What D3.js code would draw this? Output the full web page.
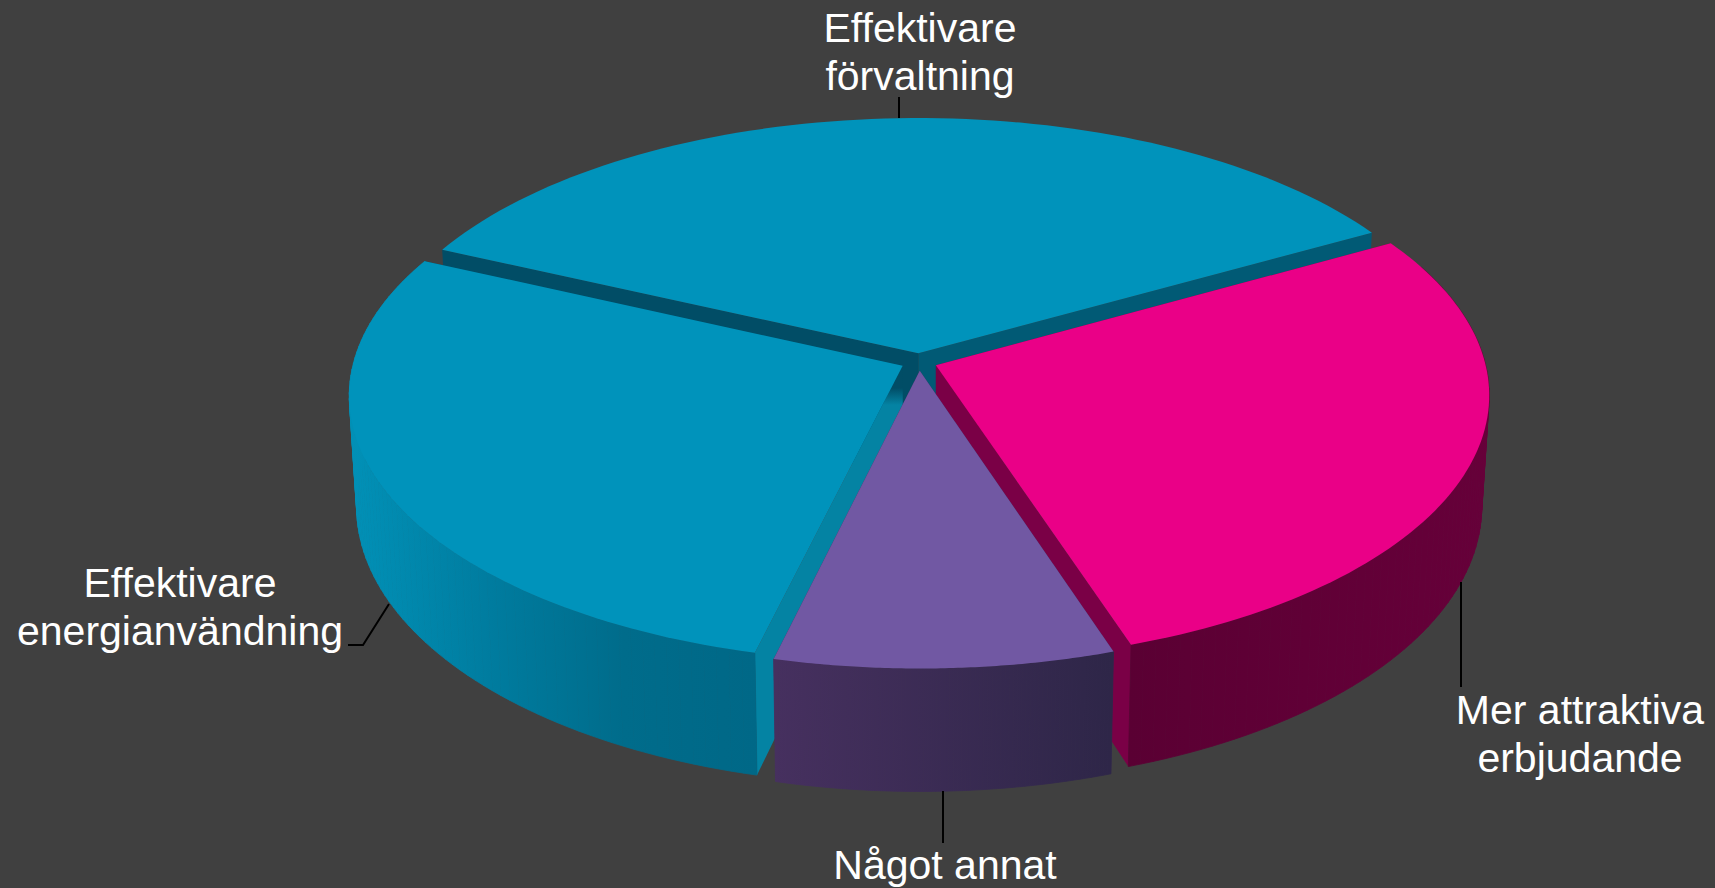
<!DOCTYPE html>
<html>
<head>
<meta charset="utf-8">
<script src="https://d3js.org/d3.v7.min.js"></script>
<style>
    html, body { margin: 0; padding: 0; background: #404040; overflow: hidden; }
    text { font-family: "Liberation Sans", Arial, sans-serif; font-size: 41px; fill: #fff; text-anchor: middle; }
</style>
</head>
<body>
<div id="chart"></div>
<script>
// values, clockwise from the left corner of the top slice
const categories = ["Effektivare förvaltning", "Mer attraktiva erbjudande", "Något annat", "Effektivare energianvändning"];
const shares = [35.1, 28.0, 8.9, 28.0];

const labelLines = [
    ["Effektivare", "förvaltning"],
    ["Mer attraktiva", "erbjudande"],
    ["Något annat"],
    ["Effektivare", "energianvändning"]
];

// colours per slice
const topColors = ["#0093bb", "#ea0087", "#7158a3", "#0093bb"];
const wallStops = [
    ["#00607e", "#00607e"],
    ["#5a0033", "#600036", "#660039"],
    ["#46305f", "#2e2648"],
    ["#0190b6", "#007c9f", "#006c8b", "#006887"]
];
// [start side, end side] of each slice
const cutColors = [
    ["#014d66", "#015a75"],
    ["#7a0046", "#7a0046"],
    ["#3f2c5e", "#3f2c5e"],
    ["url(#cutLeft)", "#014d66"]
];

// label placement and leader lines, page pixels
const labelPos = [
    {x: 920, y: 42}, {x: 1580, y: 724}, {x: 945, y: 879}, {x: 180, y: 597}
];
const leaders = [
    [[899, 97], [899, 118]],
    [[1461, 582], [1461, 687]],
    [[943, 791], [943, 843]],
    [[348, 645], [363, 645], [389, 604]]
];

const width = 1715, height = 888;
const cx = 919, cy = 362;      // pie centre on the page
const rx = 549, ry = 263;      // plane radii
const persp = 0.11;            // perspective strength
const explode = 0.033;
const depth = 109;
const taper = 0.987;           // walls lean in a little going down

const svg = d3.select("#chart").append("svg")
    .attr("width", width)
    .attr("height", height);

svg.append("rect")
    .attr("width", width)
    .attr("height", height)
    .attr("fill", "#404040");

const defs = svg.append("defs");

// the cut of the left slice is dark up by the centre, teal further out
defs.append("linearGradient")
    .attr("id", "cutLeft")
    .attr("gradientUnits", "userSpaceOnUse")
    .attr("x1", 0).attr("x2", 0)
    .attr("y1", 388).attr("y2", 405)
    .selectAll("stop")
    .data(["#014d66", "#0483a3"])
    .join("stop")
    .attr("offset", (c, j) => j)
    .attr("stop-color", c => c);

// plane point (u right, v towards viewer) to the page, low = on the bottom face
function project(u, v, low) {
    let w = 1 - persp * v;
    let x = cx + rx * u / w;
    let y = cy + ry * v / w;
    if (low) {
        x = cx + (x - cx) * taper;
        y = y + depth / w;
    }
    return [x, y];
}

const pie = d3.pie()
    .sort(null)
    .startAngle(-65.5 * Math.PI / 180)
    .endAngle((360 - 65.5) * Math.PI / 180);

const arcs = pie(shares);

const line = d3.line();

function rimPoint(d, angle, low) {
    let mid = (d.startAngle + d.endAngle) / 2;
    let u = Math.sin(angle) + explode * Math.sin(mid);
    let v = -Math.cos(angle) - explode * Math.cos(mid);
    return project(u, v, low);
}

function apexPoint(d, low) {
    let mid = (d.startAngle + d.endAngle) / 2;
    return project(explode * Math.sin(mid), -explode * Math.cos(mid), low);
}

function rimAngle(d, i) {
    return d.startAngle + (d.endAngle - d.startAngle) * i / 80;
}

function rim(d, low) {
    return d3.range(0, 81).map(i => rimPoint(d, rimAngle(d, i), low));
}

function cutFace(d, angle) {
    return [apexPoint(d, false), rimPoint(d, angle, false), rimPoint(d, angle, true), apexPoint(d, true)];
}

// painter's order: back slice first, then the sides, the front slice last
const order = [0, 3, 1, 2];

order.forEach(i => {
    let d = arcs[i];
    let g = svg.append("g").attr("class", "slice");

    defs.append("linearGradient")
        .attr("id", "wall" + i)
        .attr("gradientUnits", "userSpaceOnUse")
        .attr("x1", d3.min(rim(d, true), p => p[0]))
        .attr("x2", d3.max(rim(d, true), p => p[0]))
        .attr("y1", 0)
        .attr("y2", 0)
        .selectAll("stop")
        .data(wallStops[i])
        .join("stop")
        .attr("offset", (c, j, all) => j / (all.length - 1))
        .attr("stop-color", c => c);

    // end side first, on the side slices that one faces away
    g.append("path")
        .attr("d", line(cutFace(d, d.endAngle)) + "Z")
        .attr("fill", cutColors[i][1]);

    g.append("path")
        .attr("d", line(cutFace(d, d.startAngle)) + "Z")
        .attr("fill", cutColors[i][0]);

    // wall as small quads so the silhouette between the rims gets filled,
    // the ones facing away are left out
    let upper = rim(d, false);
    let lower = rim(d, true);
    g.append("g")
        .selectAll("path")
        .data(d3.range(0, upper.length - 1).filter(k => Math.cos(rimAngle(d, k)) < 0.4))
        .join("path")
        .attr("d", k => line([upper[k], upper[k + 1], lower[k + 1], lower[k]]) + "Z")
        .attr("fill", "url(#wall" + i + ")")
        .attr("stroke", "url(#wall" + i + ")")
        .attr("stroke-width", 0.8);

    g.append("path")
        .attr("d", line([apexPoint(d, false)].concat(upper)) + "Z")
        .attr("fill", topColors[i]);
});

// leader lines
svg.append("g")
    .selectAll("path")
    .data(leaders)
    .join("path")
    .attr("d", d => line(d))
    .attr("fill", "none")
    .attr("stroke", "#000")
    .attr("stroke-width", 2);

// labels
const labels = svg.append("g")
    .selectAll("text")
    .data(categories)
    .join("text")
    .attr("y", (d, i) => labelPos[i].y);

labels.selectAll("tspan")
    .data((d, i) => labelLines[i].map(t => ({t: t, i: i})))
    .join("tspan")
    .attr("x", d => labelPos[d.i].x)
    .attr("dy", (d, j) => j === 0 ? 0 : 48)
    .text(d => d.t);
</script>
</body>
</html>
